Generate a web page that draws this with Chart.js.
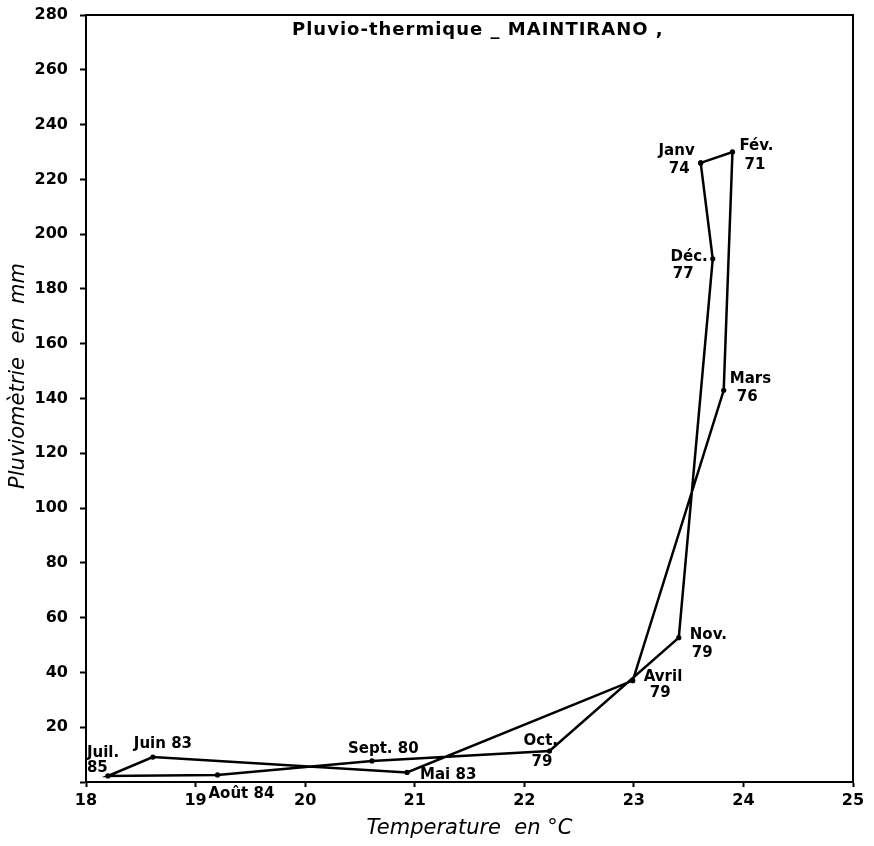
<!DOCTYPE html>
<html>
<head>
<meta charset="utf-8">
<script src="https://cdn.jsdelivr.net/npm/chart.js@4"></script>
<style>
  body { margin: 0; background: #fff; }
  #boite { width: 874px; height: 846px; }
</style>
</head>
<body>
<div id="boite"><canvas id="graphique"></canvas></div>
<script>
var mois = ["Janv", "Fév.", "Mars", "Avril", "Mai", "Juin", "Juil.", "Août", "Sept.", "Oct.", "Nov.", "Déc."];
var annees = ["74", "71", "76", "79", "83", "83", "85", "84", "80", "79", "79", "77"];
var temperatures = [23.61, 23.90, 23.82, 22.99, 20.93, 18.61, 18.20, 19.20, 20.61, 22.23, 23.41, 23.72];
var pluies = [226, 230, 143, 37, 3.5, 9.1, 2.2, 2.6, 7.7, 11.3, 52.7, 191];
var ticksX = [18, 19, 20, 21, 22, 23, 24, 25];

// placement des étiquettes autour de chaque point (une ligne = [texte, dx, dy, alignement])
var etiquettes = [
  [["Janv", -6, -12, "right"], ["74", -11, 6, "right"]],
  [["Fév.", 7, -6, "left"], ["71", 12, 13, "left"]],
  [["Mars", 6, -11, "left"], ["76", 13, 7, "left"]],
  [["Avril", 11, -4, "left"], ["79", 17, 12, "left"]],
  [["Mai 83", 13, 3, "left"]],
  [["Juin 83", -19, -13, "left"]],
  [["Juil.", -21, -23, "left"], ["85", -21, -8, "left"]],
  [["Août 84", -9, 19, "left"]],
  [["Sept. 80", -24, -12, "left"]],
  [["Oct.", -26, -10, "left"], ["79", -18, 11, "left"]],
  [["Nov.", 11, -3, "left"], ["79", 13, 15, "left"]],
  [["Déc.", -5, -2, "right"], ["77", -19, 15, "right"]]
];

var points = [];
for (var i = 0; i < mois.length; i++) {
  points.push({ x: temperatures[i], y: pluies[i] });
}
points.push({ x: temperatures[0], y: pluies[0] }); // on referme la boucle

var pluginTextes = {
  id: "textes",
  afterDraw: function (chart) {
    var ctx = chart.ctx;
    var zone = chart.chartArea;
    var meta = chart.getDatasetMeta(0);
    ctx.save();

    // cadre
    ctx.strokeStyle = "#000";
    ctx.lineWidth = 2;
    ctx.strokeRect(zone.left, zone.top, zone.right - zone.left, zone.bottom - zone.top);

    // titre
    ctx.fillStyle = "#000";
    ctx.font = "bold 18px 'DejaVu Sans'";
    ctx.letterSpacing = "1px";
    ctx.textAlign = "left";
    ctx.textBaseline = "middle";
    ctx.fillText("Pluvio-thermique _ MAINTIRANO ,", 292, 30);
    ctx.letterSpacing = "0px";

    // titre de l'axe vertical
    ctx.save();
    ctx.translate(19, 376);
    ctx.rotate(-Math.PI / 2);
    ctx.textAlign = "center";
    ctx.font = "italic 21px 'DejaVu Sans'";
    ctx.fillText("Pluviomètrie  en  mm", 0, 0);
    ctx.restore();

    // étiquettes des mois
    ctx.font = "bold 15px 'DejaVu Sans'";
    for (var i = 0; i < mois.length; i++) {
      var p = meta.data[i];
      var lignes = etiquettes[i];
      for (var j = 0; j < lignes.length; j++) {
        ctx.textAlign = lignes[j][3];
        ctx.fillText(lignes[j][0], p.x + lignes[j][1], p.y + lignes[j][2]);
      }
    }
    ctx.restore();
  }
};

var chart = new Chart(document.getElementById("graphique").getContext("2d"), {
  type: "scatter",
  data: {
    datasets: [{
      data: points,
      showLine: true,
      borderColor: "#000",
      borderWidth: 2.5,
      pointRadius: 2.6,
      pointBackgroundColor: "#000",
      pointBorderWidth: 0,
      tension: 0
    }]
  },
  options: {
    responsive: true,
    maintainAspectRatio: false,
    animation: false,
    layout: { padding: { top: 15, right: 21, left: 0, bottom: 0 } },
    plugins: {
      legend: { display: false },
      tooltip: { enabled: false }
    },
    scales: {
      x: {
        type: "linear",
        min: 18,
        max: 25,
        afterFit: function (scale) {
          scale.height = 64;
          scale.paddingLeft = 0;
          scale.paddingRight = 0;
        },
        afterBuildTicks: function (scale) {
          scale.ticks = ticksX.map(function (v) { return { value: v }; });
        },
        ticks: {
          color: "#000",
          font: { family: "DejaVu Sans", weight: "bold", size: 16 },
          padding: 4,
          maxRotation: 0
        },
        grid: { drawOnChartArea: false, tickLength: 5, tickColor: "#000", tickWidth: 2 },
        border: { color: "#000", width: 2 },
        title: {
          display: true,
          text: "Temperature  en °C",
          color: "#000",
          font: { family: "DejaVu Sans", style: "italic", size: 21 },
          padding: { top: 0, bottom: 5 }
        }
      },
      y: {
        type: "linear",
        min: 0,
        max: 280,
        afterFit: function (scale) {
          scale.width = 86;
          scale.paddingTop = 0;
          scale.paddingBottom = 0;
        },
        ticks: {
          stepSize: 20,
          color: "#000",
          font: { family: "DejaVu Sans", weight: "bold", size: 16 },
          padding: 12,
          callback: function (v) { return v == 0 ? "" : v; }
        },
        grid: { drawOnChartArea: false, tickLength: 6, tickColor: "#000", tickWidth: 2 },
        border: { color: "#000", width: 2 }
      }
    }
  },
  plugins: [pluginTextes]
});
</script>
</body>
</html>
